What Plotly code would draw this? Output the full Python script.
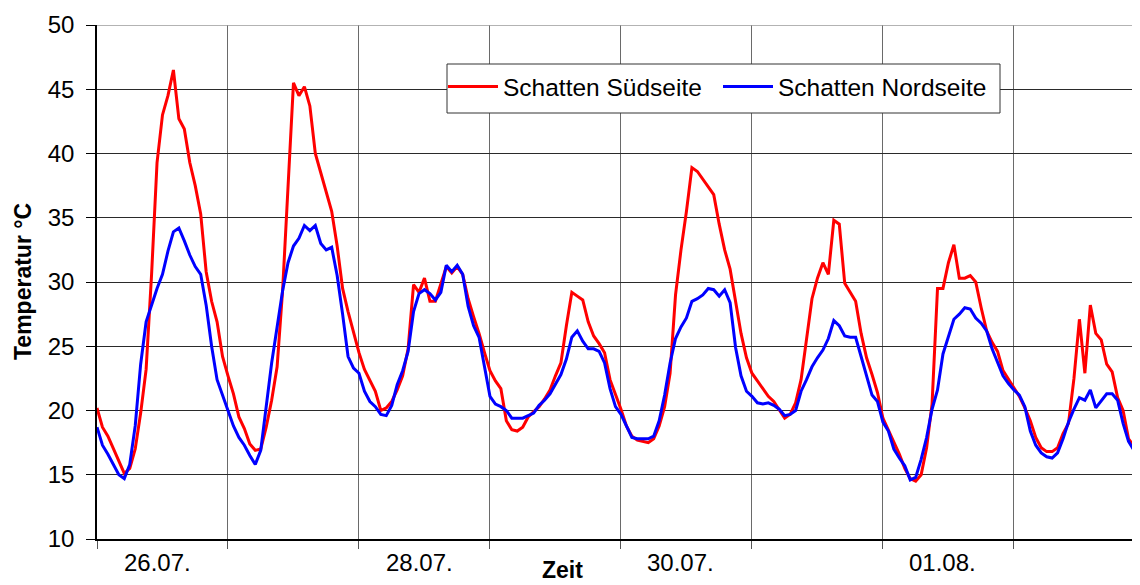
import plotly.graph_objects as go

# Hourly readings starting 26.07. 00:00 (hours since start)
hours = list(range(192))

sued = [
    20.2, 18.7, 18.0, 17.0, 16.0, 15.1, 15.5, 17.0, 19.8, 23.2, 30.6, 39.3,
    43.0, 44.5, 46.5, 42.7, 41.9, 39.3, 37.5, 35.3, 30.8, 28.5, 26.9, 24.2,
    22.7, 21.3, 19.5, 18.6, 17.4, 16.9, 17.0, 18.7, 20.8, 23.4, 29.3, 37.4,
    45.5, 44.5, 45.2, 43.7, 40.0, 38.5, 37.0, 35.5, 32.8, 29.5, 27.7, 26.0,
    24.5, 23.2, 22.4, 21.5, 20.0, 20.2, 20.7, 21.6, 22.7, 24.8, 29.8, 29.2,
    30.3, 28.5, 28.5, 29.8, 31.2, 30.7, 31.2, 30.6, 28.7, 27.3, 26.0, 24.5,
    23.1, 22.3, 21.7, 19.2, 18.5, 18.4, 18.7, 19.5, 19.9, 20.3, 20.9, 21.6,
    22.7, 23.7, 26.6, 29.2, 28.9, 28.6, 26.9, 25.8, 25.2, 24.5, 22.4, 21.3,
    20.1, 18.8, 18.0, 17.7, 17.6, 17.5, 17.8, 18.8, 20.3, 22.9, 29.0, 32.5,
    35.5, 38.9, 38.6, 38.0, 37.5, 36.8, 34.5, 32.5, 31.0, 28.5, 26.0, 24.1,
    22.9, 22.3, 21.7, 21.1, 20.7, 20.0, 19.4, 19.7, 20.6, 22.4, 25.6, 28.7,
    30.3, 31.5, 30.6, 34.8, 34.5, 29.9, 29.2, 28.5, 26.0, 24.1, 22.8, 21.4,
    19.4, 18.5, 17.6, 16.6, 15.5, 14.7, 14.5, 15.0, 17.1, 20.5, 29.5, 29.5,
    31.5, 32.9, 30.3, 30.3, 30.5, 30.0, 28.0, 26.2, 25.3, 24.6, 23.1, 22.4,
    21.7, 21.1, 20.2, 19.2, 17.9, 17.1, 16.8, 16.8, 17.1, 18.2, 19.0, 22.5,
    27.1, 22.9, 28.2, 26.0, 25.5, 23.6, 23.0, 21.0, 20.0, 17.8, 17.2, 16.3,
]

nord = [
    18.7, 17.3, 16.6, 15.8, 15.0, 14.7, 15.8, 18.8, 23.6, 26.9, 28.2, 29.5,
    30.6, 32.4, 33.9, 34.2, 33.2, 32.1, 31.2, 30.6, 28.2, 25.0, 22.4, 21.2,
    20.0, 18.8, 17.9, 17.3, 16.5, 15.8, 16.9, 20.3, 23.7, 26.5, 29.3, 31.5,
    32.8, 33.4, 34.4, 34.0, 34.4, 33.0, 32.5, 32.7, 30.5, 27.5, 24.2, 23.3,
    22.9, 21.5, 20.7, 20.3, 19.7, 19.6, 20.4, 22.0, 23.1, 24.6, 27.7, 29.1,
    29.4, 29.1, 28.6, 29.2, 31.3, 30.8, 31.3, 30.6, 28.1, 26.6, 25.7, 23.4,
    21.1, 20.5, 20.3, 20.0, 19.4, 19.4, 19.4, 19.6, 19.8, 20.4, 20.8, 21.3,
    22.1, 22.8, 24.0, 25.7, 26.2, 25.4, 24.8, 24.8, 24.6, 23.7, 21.7, 20.3,
    19.7, 18.8, 17.9, 17.8, 17.8, 17.8, 18.0, 19.2, 21.2, 23.7, 25.6, 26.5,
    27.2, 28.5, 28.7, 29.0, 29.5, 29.4, 28.9, 29.4, 28.4, 24.9, 22.7, 21.5,
    21.1, 20.6, 20.5, 20.6, 20.4, 20.1, 19.6, 19.7, 20.0, 21.5, 22.4, 23.4,
    24.1, 24.7, 25.6, 27.0, 26.6, 25.8, 25.7, 25.7, 24.2, 22.7, 21.2, 20.7,
    19.1, 18.4, 17.0, 16.3, 15.7, 14.6, 14.8, 16.2, 17.9, 20.1, 21.6, 24.4,
    25.7, 27.1, 27.5, 28.0, 27.9, 27.2, 26.8, 26.2, 24.8, 23.7, 22.7, 22.1,
    21.6, 21.2, 20.3, 18.4, 17.3, 16.7, 16.4, 16.3, 16.7, 17.8, 19.1, 20.1,
    21.0, 20.8, 21.6, 20.2, 20.8, 21.3, 21.3, 20.8, 19.0, 17.6, 16.9, 15.9,
]

day_grid = [0, 24, 48, 72, 96, 120, 144, 168, 192]
date_labels = ["26.07.", "28.07.", "30.07.", "01.08."]
date_label_hours = [11, 59, 107, 155]
y_ticks = [10, 15, 20, 25, 30, 35, 40, 45, 50]

FONT = "Liberation Sans, Arial, sans-serif"

# helpers: page pixel -> paper coordinates (plot area x 97..1140, y 25..539)
def px(x):
    return (x - 97) / 1043

def py(y):
    return (539 - y) / 514

fig = go.Figure()
fig.add_trace(go.Scatter(x=hours, y=sued, mode="lines", name="Schatten Südseite",
                         line=dict(color="#FF0000", width=3)))
fig.add_trace(go.Scatter(x=hours, y=nord, mode="lines", name="Schatten Nordseite",
                         line=dict(color="#0000FF", width=3)))

# page body has an 8px margin: size the figure so that it fills the window
fig.update_layout(
    width=1132, height=577,
    margin=dict(l=89, r=0, t=17, b=46),
    paper_bgcolor="white", plot_bgcolor="white",
    font=dict(family=FONT, size=24, color="black"),
    showlegend=True,
    legend=dict(
        orientation="h", x=px(443), y=py(64),
        xanchor="left", yanchor="top",
        bgcolor="rgba(0,0,0,0)", borderwidth=0,
        font=dict(family=FONT, size=24.5, color="black"),
        itemwidth=50, entrywidth=210,
    ),
    xaxis=dict(
        range=[0, 191.1], tickmode="array", tickvals=day_grid,
        ticktext=[""] * len(day_grid),
        showgrid=True, gridcolor="#6a6a6a", gridwidth=1,
        ticks="outside", ticklen=8, tickcolor="#555555",
        showline=True, linecolor="black", linewidth=1.5,
        zeroline=False,
    ),
    yaxis=dict(
        range=[10, 50], tickmode="array", tickvals=y_ticks,
        showgrid=True, gridcolor="#2a2a2a", gridwidth=1,
        ticks="outside", ticklen=9, tickcolor="black",
        showline=True, linecolor="black", linewidth=1.5,
        zeroline=False, ticklabelstandoff=7,
        tickfont=dict(family=FONT, size=24, color="black"),
    ),
    shapes=[
        dict(type="line", xref="paper", yref="y", x0=0, x1=1, y0=50, y1=50,
             line=dict(color="#9a9a9a", width=1.5), layer="above"),
        dict(type="rect", xref="paper", yref="paper",
             x0=px(447), x1=px(1000), y0=py(113), y1=py(64),
             fillcolor="white", line=dict(color="#333333", width=1), layer="above"),
    ],
)

annotations = []
for lbl, h in zip(date_labels, date_label_hours):
    annotations.append(dict(x=h, y=py(562), xref="x", yref="paper",
                            text=lbl, showarrow=False, xanchor="center", yanchor="middle",
                            font=dict(family=FONT, size=24, color="black")))
annotations.append(dict(x=px(562.5), y=py(585), xref="paper", yref="paper",
                        text="<b>Zeit</b>", showarrow=False, xanchor="center", yanchor="bottom",
                        font=dict(family=FONT, size=23, color="black")))
annotations.append(dict(x=px(8), y=0.5, xref="paper", yref="paper",
                        text="<b>Temperatur °C</b>", showarrow=False, textangle=-90,
                        xanchor="left", yanchor="middle",
                        font=dict(family=FONT, size=23, color="black")))
fig.update_layout(annotations=annotations)

fig.write_html("out.html")
